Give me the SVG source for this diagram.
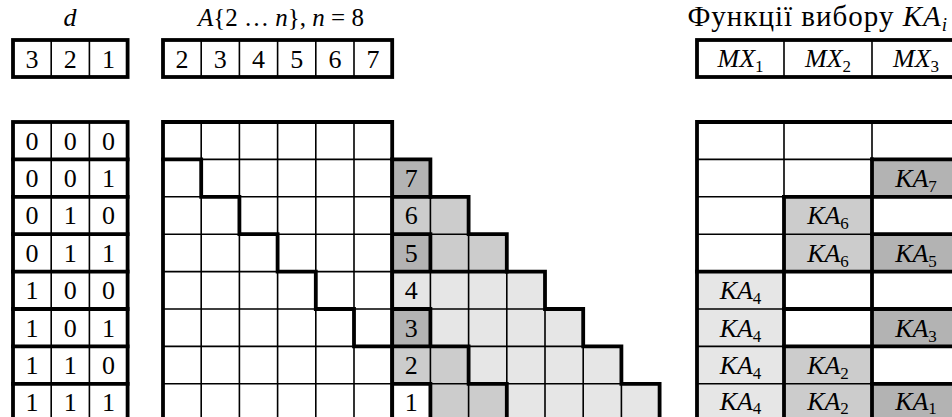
<svg xmlns="http://www.w3.org/2000/svg" width="952" height="417" viewBox="0 0 952 417">
<style>
  .bg{fill:#fff}
  .thin{fill:none;stroke:#000;stroke-width:1.6}
  .thick{fill:none;stroke:#000;stroke-width:3.8;stroke-linecap:square}
  .dark{fill:#b3b3b3}
  .mid{fill:#cccccc}
  .light{fill:#e6e6e6}
  .white{fill:#ffffff}
  text{font-family:"Liberation Serif","Times New Roman",serif;font-size:26px;fill:#000;text-anchor:middle}
  .it{font-style:italic}
  .sub{font-size:17px}
</style>
<rect class="bg" x="0" y="0" width="952" height="417"/>

<g id="title-d"><text x="70" y="26" class="it">d</text></g>
<g id="title-a"><text x="281" y="26" style="font-size:25px"><tspan class="it">A</tspan>{2 … <tspan class="it">n</tspan>}, <tspan class="it">n</tspan> = 8</text></g>
<g id="title-ka"><text x="948" y="26" style="text-anchor:end;font-size:29px;letter-spacing:1px">Функції вибору <tspan class="it">KA</tspan><tspan class="it" style="font-size:19px" dy="5">i</tspan></text></g>

<g id="d-header">
  <path class="thin" d="M51.2,40V77M89.4,40V77"/>
  <rect class="thick" x="13" y="40" width="114.6" height="37"/>
  <text x="32.1" y="67.5">3</text><text x="70.3" y="67.5">2</text><text x="108.5" y="67.5">1</text>
</g>

<g id="a-header">
  <path class="thin" d="M201.2,40V77M239.4,40V77M277.6,40V77M315.8,40V77M354,40V77"/>
  <rect class="thick" x="163" y="40" width="229.2" height="37"/>
  <text x="182.1" y="67.5">2</text><text x="220.3" y="67.5">3</text><text x="258.5" y="67.5">4</text>
  <text x="296.7" y="67.5">5</text><text x="334.9" y="67.5">6</text><text x="373.1" y="67.5">7</text>
</g>

<g id="mx-header">
  <path class="thin" d="M784,40V77M872,40V77"/>
  <rect class="thick" x="697" y="40" width="263" height="37"/>
  <text x="740.5" y="67"><tspan class="it">MX</tspan><tspan class="sub" dy="5">1</tspan></text>
  <text x="828" y="67"><tspan class="it">MX</tspan><tspan class="sub" dy="5">2</tspan></text>
  <text x="916" y="67"><tspan class="it">MX</tspan><tspan class="sub" dy="5">3</tspan></text>
</g>

<g id="d-body">
  <path class="thin" d="M51.2,122V421.2M89.4,122V421.2"/>
  <path class="thick" d="M13,159.4H127.6M13,196.8H127.6M13,234.2H127.6M13,271.6H127.6M13,309H127.6M13,346.4H127.6M13,383.8H127.6"/>
  <rect class="thick" x="13" y="122" width="114.6" height="299.2"/>
  <g>
    <text x="32.1" y="149.5">0</text><text x="70.3" y="149.5">0</text><text x="108.5" y="149.5">0</text>
    <text x="32.1" y="186.9">0</text><text x="70.3" y="186.9">0</text><text x="108.5" y="186.9">1</text>
    <text x="32.1" y="224.3">0</text><text x="70.3" y="224.3">1</text><text x="108.5" y="224.3">0</text>
    <text x="32.1" y="261.7">0</text><text x="70.3" y="261.7">1</text><text x="108.5" y="261.7">1</text>
    <text x="32.1" y="299.1">1</text><text x="70.3" y="299.1">0</text><text x="108.5" y="299.1">0</text>
    <text x="32.1" y="336.5">1</text><text x="70.3" y="336.5">0</text><text x="108.5" y="336.5">1</text>
    <text x="32.1" y="373.9">1</text><text x="70.3" y="373.9">1</text><text x="108.5" y="373.9">0</text>
    <text x="32.1" y="411.3">1</text><text x="70.3" y="411.3">1</text><text x="108.5" y="411.3">1</text>
  </g>
</g>

<g id="a-grid">
  <path class="thin" d="M201.2,122V421.2M239.4,122V421.2M277.6,122V421.2M315.8,122V421.2M354,122V421.2"/>
  <path class="thin" d="M163,159.4H392.2M163,196.8H392.2M163,234.2H392.2M163,271.6H392.2M163,309H392.2M163,346.4H392.2M163,383.8H392.2"/>
  <path class="thick" d="M163,421.2V122H392.2V421.2"/>
  <path class="thick" d="M163,159.4H201.2V196.8H239.4V234.2H277.6V271.6H315.8V309H354V346.4H392.2"/>
</g>

<g id="triangle">
  <rect class="dark" x="392.2" y="159.4" width="38.2" height="37.4"/>
  <rect class="mid" x="392.2" y="196.8" width="76.4" height="37.4"/>
  <rect class="dark" x="392.2" y="234.2" width="38.2" height="37.4"/>
  <rect class="mid" x="430.4" y="234.2" width="76.4" height="37.4"/>
  <rect class="light" x="392.2" y="271.6" width="152.8" height="37.4"/>
  <rect class="dark" x="392.2" y="309" width="38.2" height="37.4"/>
  <rect class="light" x="430.4" y="309" width="152.8" height="37.4"/>
  <rect class="mid" x="392.2" y="346.4" width="76.4" height="37.4"/>
  <rect class="light" x="468.6" y="346.4" width="152.8" height="37.4"/>
  <rect class="white" x="392.2" y="383.8" width="38.2" height="37.4"/>
  <rect class="mid" x="430.4" y="383.8" width="76.4" height="37.4"/>
  <rect class="light" x="506.8" y="383.8" width="152.8" height="37.4"/>
  <path class="thin" d="M392.2,196.8H468.6M392.2,234.2H506.8M392.2,271.6H545M392.2,309H583.2M392.2,346.4H621.4M392.2,383.8H659.6"/>
  <path class="thin" d="M430.4,196.8V421.2M468.6,234.2V421.2M506.8,271.6V421.2M545,309V421.2M583.2,346.4V421.2M621.4,383.8V421.2"/>
  <path class="thick" d="M392.2,159.4H430.4V196.8H468.6V234.2H506.8V271.6H545V309H583.2V346.4H621.4V383.8H659.6V421.2"/>
  <path class="thick" d="M392.2,196.8H430.4M392.2,234.2H430.4V271.6M392.2,271.6H506.8M392.2,309H430.4V346.4M392.2,346.4H468.6V383.8M392.2,383.8H430.4V421.2M468.6,383.8H506.8V421.2M392.2,159.4V421.2"/>
  <text x="411.3" y="186.9">7</text><text x="411.3" y="224.3">6</text><text x="411.3" y="261.7">5</text>
  <text x="411.3" y="299.1">4</text><text x="411.3" y="336.5">3</text><text x="411.3" y="373.9">2</text>
  <text x="411.3" y="411.3">1</text>
</g>

<g id="select-table">
  <rect class="dark" x="872" y="159.4" width="88" height="37.4"/>
  <rect class="mid" x="784" y="196.8" width="88" height="74.8"/>
  <rect class="dark" x="872" y="234.2" width="88" height="37.4"/>
  <rect class="light" x="697" y="271.6" width="87" height="149.6"/>
  <rect class="dark" x="872" y="309" width="88" height="37.4"/>
  <rect class="mid" x="784" y="346.4" width="88" height="74.8"/>
  <rect class="dark" x="872" y="383.8" width="88" height="37.4"/>
  <path class="thin" d="M697,159.4H960M697,196.8H960M697,234.2H960M697,271.6H960M697,309H960M697,346.4H960M697,383.8H960M784,122V421.2M872,122V421.2"/>
  <path class="thick" d="M697,421.2V122H960"/>
  <path class="thick" d="M872,159.4H960M784,196.8H960M872,234.2H960M697,271.6H960M784,309H960M784,346.4H960M872,383.8H960"/>
  <path class="thick" d="M784,196.8V421.2M872,159.4V421.2"/>
  <text x="916" y="186.9"><tspan class="it">KA</tspan><tspan class="sub" dy="5">7</tspan></text>
  <text x="828" y="224.3"><tspan class="it">KA</tspan><tspan class="sub" dy="5">6</tspan></text>
  <text x="828" y="261.7"><tspan class="it">KA</tspan><tspan class="sub" dy="5">6</tspan></text>
  <text x="916" y="261.7"><tspan class="it">KA</tspan><tspan class="sub" dy="5">5</tspan></text>
  <text x="740.5" y="299.1"><tspan class="it">KA</tspan><tspan class="sub" dy="5">4</tspan></text>
  <text x="740.5" y="336.5"><tspan class="it">KA</tspan><tspan class="sub" dy="5">4</tspan></text>
  <text x="916" y="336.5"><tspan class="it">KA</tspan><tspan class="sub" dy="5">3</tspan></text>
  <text x="740.5" y="373.9"><tspan class="it">KA</tspan><tspan class="sub" dy="5">4</tspan></text>
  <text x="828" y="373.9"><tspan class="it">KA</tspan><tspan class="sub" dy="5">2</tspan></text>
  <text x="740.5" y="410.3"><tspan class="it">KA</tspan><tspan class="sub" dy="4">4</tspan></text>
  <text x="828" y="410.3"><tspan class="it">KA</tspan><tspan class="sub" dy="4">2</tspan></text>
  <text x="916" y="410.3"><tspan class="it">KA</tspan><tspan class="sub" dy="4">1</tspan></text>
</g>
</svg>
